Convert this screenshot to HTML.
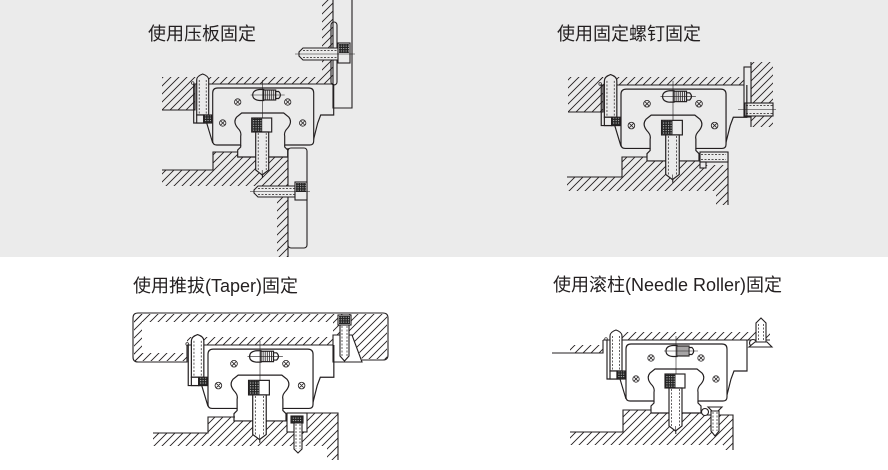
<!DOCTYPE html>
<html><head><meta charset="utf-8"><style>
html,body{margin:0;padding:0;background:#fff;width:888px;height:470px;overflow:hidden}
svg{display:block}
text{font-family:"Liberation Sans","Noto Sans CJK SC",sans-serif;font-size:18px;fill:#231f20}
</style></head><body>
<svg width="888" height="470" viewBox="0 0 888 470" xmlns="http://www.w3.org/2000/svg">
<defs>
<pattern id="h" width="8" height="8" patternUnits="userSpaceOnUse"><path d="M-1,9 L9,-1 M-1,1 L1,-1 M7,9 L9,7" stroke="#231f20" stroke-width="0.9"/></pattern>
<pattern id="k" width="2.4" height="2.4" patternUnits="userSpaceOnUse"><rect width="2.4" height="2.4" fill="#222"/><rect width="1.1" height="1.1" fill="#bbb"/></pattern>
<g id="car" stroke="#231f20" stroke-width="1.15">
<path fill="none" stroke-width="0.6" d="M0,-4 V94"/>
<path fill="none" d="M-69,0 V39 H-56 L-50,59 M71,0 V31 H58 L55,39 L50,59"/>
<path d="M-50,9 Q-50,4 -45,4 H46 Q51,4 51,9 V57 Q51,61 47,61 H22 V52 Q21,48 25,44 Q30,38 26,33 L21,29 H-21 L-26,33 Q-30,38 -25,44 Q-21,48 -22,52 V61 H-46 Q-50,61 -50,57 Z"/>
<path fill="none" d="M-22,61 V63 L-25,66 V73 H25 V66 L22,63 V61"/>
<g fill="none" stroke-width="0.8">
<circle cx="-25" cy="18" r="3.2"/><circle cx="25" cy="18" r="3.2"/><circle cx="-40" cy="39" r="3.2"/><circle cx="40" cy="39" r="3.2"/>
<path d="M-27,16 l4,4 m0,-4 l-4,4 M23,16 l4,4 m0,-4 l-4,4 M-42,37 l4,4 m0,-4 l-4,4 M38,37 l4,4 m0,-4 l-4,4"/>
</g>
<path d="M1,5.5 H-3 Q-10,6 -10,11 Q-10,16 -3,16.5 H1 Z"/>
<rect x="1" y="6" width="12" height="10"/>
<path fill="none" stroke-width="0.8" d="M3,6 V16 M5,6 V16 M7,6 V16 M9,6 V16 M11,6 V16"/>
<path d="M13,7.5 H16 Q19.5,11 16,14.5 H13 Z"/>
<path fill="none" stroke-width="0.6" d="M-12,11 H22 M0,4 V29"/>
<rect x="-11" y="34" width="20" height="14"/>
<rect x="-10.5" y="34.5" width="10" height="13" fill="url(#k)" stroke="none"/>
<path d="M-7,48 V86 L-0.5,91 L6,86 V48 Z"/>
<path fill="none" stroke-width="0.7" stroke-dasharray="2,1.5" d="M-4.5,49 V86 M3.5,49 V86"/>
<path fill="none" stroke-width="0.6" d="M-0.5,86 V94"/>
<path d="M-66,31 V-4 Q-66,-8 -60,-10 Q-54,-8 -54,-4 V31 Z"/>
<path fill="none" stroke-width="0.7" stroke-dasharray="2,1.5" d="M-63.5,-4 V31 M-56.5,-4 V31"/>
<rect x="-66" y="31" width="7" height="8"/>
<rect x="-59" y="31" width="8" height="8" fill="url(#k)"/>
<circle cx="-70" cy="-1" r="1.3" fill="none" stroke-width="0.7"/>
</g>
</defs>

<rect x="0" y="0" width="888" height="257" fill="#ebebeb"/>

<text x="148" y="40">使用压板固定</text>
<text x="557" y="40">使用固定螺钉固定</text>
<text x="133" y="292">使用推拔(Taper)固定</text>
<text x="553" y="291">使用滚柱(Needle Roller)固定</text>

<!-- D1 -->
<g stroke="#231f20" stroke-width="1.1" fill="#ebebeb">
<g stroke="none" fill="url(#h)">
<rect x="322" y="0" width="11" height="84"/>
<rect x="195" y="77" width="127" height="7"/>
<rect x="162" y="77" width="33" height="33"/>
<path d="M162,170 H213 V152 H238 V157 H288 V257 H277 V186 H162 Z"/>
</g>
<path fill="none" d="M333,0 V84 M193,84 H333 M162,110 H195 V84 M162,170 H213 V152 H238 M288,148 V257"/>
<path fill="none" d="M333,84 V108 H352 V0"/>
<rect x="331" y="22" width="6" height="63" rx="3" fill="none"/>
<path d="M303,48 H338 V60 H303 L299,56 V52 Z"/>
<path fill="none" stroke-width="0.7" stroke-dasharray="2,1.5" d="M303,50.5 H338 M303,57.5 H338"/>
<rect x="338" y="43" width="12" height="20"/>
<rect x="339" y="44" width="10" height="9" fill="url(#k)" stroke="none"/>
<path fill="none" stroke-width="0.6" d="M295,54 H355"/>
<rect x="288" y="148" width="19" height="100" rx="3"/>
<path d="M258,186 H295 V197 H258 L254,193 V190 Z"/>
<path fill="none" stroke-width="0.7" stroke-dasharray="2,1.5" d="M258,188.5 H295 M258,194.5 H295"/>
<rect x="295" y="182" width="12" height="18"/>
<rect x="296" y="183" width="10" height="9" fill="url(#k)" stroke="none"/>
<path fill="none" stroke-width="0.6" d="M250,191.5 H310"/>
</g>
<use href="#car" transform="translate(262.7,84)" fill="#ebebeb"/>

<!-- D2 -->
<g stroke="#231f20" stroke-width="1.1" fill="#ebebeb">
<g stroke="none" fill="url(#h)">
<rect x="600" y="77" width="144" height="8"/>
<rect x="568" y="77" width="35" height="35"/>
<rect x="751" y="62" width="22" height="65"/>
<path d="M567,177 H622 V157 H647 V161 H700 V165 H728 V205 H716 V191 H567 Z"/>
</g>
<path fill="none" d="M600,85 H744 M568,112 H603 V85 M751,62 V127 M567,177 H622 V157 H647 M728,152 V205"/>
<rect x="744" y="67" width="7" height="50"/>
<rect x="745" y="103" width="28" height="13"/>
<path fill="none" stroke-width="0.7" stroke-dasharray="2,1.5" d="M746,105.5 H773 M746,113.5 H773"/>
<path fill="none" stroke-width="0.6" d="M738,109.5 H776"/>
<rect x="700" y="152" width="28" height="10"/>
<path fill="none" stroke-width="0.7" stroke-dasharray="2,1.5" d="M701,154.5 H726 M701,159.5 H726"/>
<rect x="700" y="162" width="6" height="6"/>
</g>
<use href="#car" transform="translate(673,85) scale(1.04)" fill="#ebebeb"/>

<!-- D3 -->
<g stroke="#231f20" stroke-width="1.1" fill="#fff">
<g stroke="none" fill="url(#h)">
<rect x="134" y="314" width="253" height="8"/>
<rect x="134" y="314" width="8" height="47"/>
<rect x="134" y="353" width="53" height="8"/>
<rect x="187" y="337" width="146" height="8"/>
<path d="M333,322 H387 V359 H362 L352,335 H333 Z"/>
<path d="M153,433 H208 V417 H235 V421 H287 V432 H307 V413 H338 V460 H327 V446 H153 Z"/>
</g>
<path fill="none" d="M187,345 V362 H138 Q133,362 133,357 V318 Q133,313 138,313 H383 Q388,313 388,318 V355 Q388,360 383,360 H362 M187,345 H333"/>
<path d="M333,335 H352 L362,362 H333 Z"/>
<path d="M340,325 V356 L344.5,361 L349,356 V325 Z"/>
<path fill="none" stroke-width="0.7" stroke-dasharray="2,1.5" d="M342,326 V356 M347,326 V356"/>
<rect x="338" y="315" width="13" height="10"/>
<rect x="339" y="316" width="11" height="8" fill="url(#k)" stroke="none"/>
<path fill="none" d="M153,433 H208 V417 H235 M307,413 H338 V460"/>
<rect x="287" y="413" width="20" height="19"/>
<rect x="291" y="416" width="12" height="7" fill="url(#k)"/>
<path d="M294,423 V449 L298,453 L302,449 V423 Z"/>
<path fill="none" stroke-width="0.7" stroke-dasharray="2,1.5" d="M296,424 V449 M300,424 V449"/>
</g>
<use href="#car" transform="translate(260,345) scale(1.04)" fill="#fff"/>

<!-- D4 -->
<g stroke="#231f20" stroke-width="1.1" fill="#fff">
<g stroke="none" fill="url(#h)">
<rect x="617" y="332" width="153" height="8"/>
<rect x="570" y="345" width="33" height="8"/>
<path d="M570,432 H623 V410 H651 V413 H701 V415 H733 V450 H723 V445 H570 Z"/>
</g>
<path fill="none" d="M603,340 H770 M552,353 H603 V340 M570,432 H623 V410 H651 M707,415 H733 V450"/>
</g>
<use href="#car" transform="translate(676,340)" fill="#fff"/>
<g stroke="#231f20" stroke-width="1.1" fill="#fff">
<circle cx="753" cy="343" r="3.5"/>
<path d="M756,343 V323 L761,318 L766,323 V343 Z"/>
<path fill="none" stroke-width="0.7" stroke-dasharray="2,1.5" d="M758.5,324 V342 M763.5,324 V342"/>
<path d="M749,347 H772 L767,342 H755 Z"/>
<circle cx="705" cy="412" r="3.5"/>
<path d="M711,411 V431 L715,436 L719,431 V411 Z"/>
<path fill="none" stroke-width="0.7" stroke-dasharray="2,1.5" d="M713,412 V431 M717,412 V431"/>
<path d="M708,407 H722 L718,411 H712 Z"/>
</g>
</svg>
</body></html>
